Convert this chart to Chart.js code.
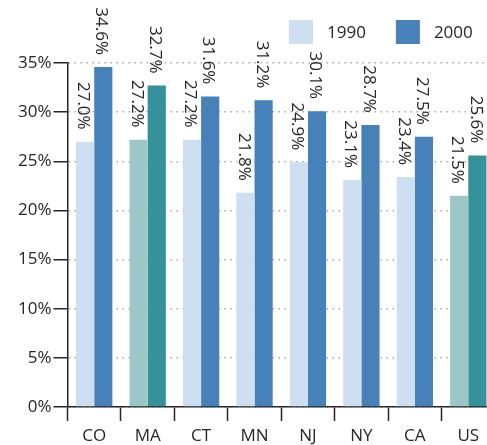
<!DOCTYPE html>
<html>
<head>
<meta charset="utf-8">
<script src="https://cdn.jsdelivr.net/npm/chart.js@4"></script>
<style>
  html, body { margin: 0; padding: 0; background: #fff; overflow: hidden; }
  #wrap { width: 500px; height: 445px; }
</style>
</head>
<body>
<div id="wrap"><canvas id="myChart"></canvas></div>
<script>
const estados = ['CO', 'MA', 'CT', 'MN', 'NJ', 'NY', 'CA', 'US'];
const valores1990 = [27.0, 27.2, 27.2, 21.8, 24.9, 23.1, 23.4, 21.5];
const valores2000 = [34.6, 32.7, 31.6, 31.2, 30.1, 28.7, 27.5, 25.6];
const destacados = ['MA', 'US'];
const ejeMax = 35;
const ejePaso = 5;

const FUENTE = '"Open Sans", "Noto Sans", sans-serif';
const TEXTO = '#262626';

// colores: normal / destacado
const colores = {
    '1990': { normal: '#cddff0', destacado: '#9dc6c8' },
    '2000': { normal: '#4682b9', destacado: '#35919a' },
};

const colorBarras = (anio) =>
    estados.map(e => destacados.includes(e) ? colores[anio].destacado : colores[anio].normal);

// valores rotados encima de cada barra
const etiquetasVerticales = {
    id: 'etiquetasVerticales',
    afterDatasetsDraw(chart) {
        const ctx = chart.ctx;
        ctx.save();
        ctx.font = '17px ' + FUENTE;
        ctx.fillStyle = TEXTO;
        ctx.textAlign = 'right';
        ctx.textBaseline = 'middle';
        chart.data.datasets.forEach((ds, i) => {
            chart.getDatasetMeta(i).data.forEach((bar, j) => {
                ctx.save();
                ctx.translate(bar.x - 2, bar.y - 12);
                ctx.rotate(Math.PI / 2);
                ctx.fillText(ds.data[j].toFixed(1) + '%', 0, 0);
                ctx.restore();
            });
        });
        ctx.restore();
    }
};

// leyenda arriba a la derecha
const leyenda = {
    id: 'leyenda',
    afterDraw(chart) {
        const ctx = chart.ctx;
        const caja = 24;
        let x = 289;
        const y = 20;
        ctx.save();
        ctx.font = '17px ' + FUENTE;
        ctx.textBaseline = 'middle';
        chart.data.datasets.forEach(ds => {
            ctx.fillStyle = colores[ds.label].normal;
            ctx.fillRect(x, y, caja, caja);
            ctx.fillStyle = TEXTO;
            ctx.fillText(ds.label, x + caja + 14, y + caja / 2 + 1);
            x += caja + 14 + ctx.measureText(ds.label).width + 30;
        });
        ctx.restore();
    }
};

new Chart(document.getElementById('myChart'), {
    type: 'bar',
    data: {
        labels: estados,
        datasets: [
            { label: '1990', data: valores1990, backgroundColor: colorBarras('1990') },
            { label: '2000', data: valores2000, backgroundColor: colorBarras('2000') },
        ],
    },
    options: {
        responsive: true,
        maintainAspectRatio: false,
        animation: false,
        categoryPercentage: 0.68,
        barPercentage: 1,
        layout: { padding: { top: 63, right: 5, left: 16, bottom: -7 } },
        plugins: {
            legend: { display: false },
            tooltip: { enabled: false },
        },
        scales: {
            x: {
                grid: {
                    offset: true,
                    drawOnChartArea: false,
                    tickLength: 14,
                    tickColor: TEXTO,
                    tickWidth: 1.5,
                },
                border: { color: TEXTO, width: 1.5 },
                ticks: {
                    color: TEXTO,
                    font: { family: FUENTE, size: 17, lineHeight: 1 },
                    padding: 7,
                },
            },
            y: {
                min: 0,
                max: ejeMax,
                grid: {
                    color: '#a8a8a8',
                    lineWidth: 1.5,
                    tickLength: 14,
                    tickColor: TEXTO,
                    tickWidth: 1.5,
                    tickBorderDash: [],
                },
                border: { color: TEXTO, width: 1.5, dash: [1.5, 4.5] },
                ticks: {
                    stepSize: ejePaso,
                    color: TEXTO,
                    padding: 2,
                    font: { family: FUENTE, size: 17 },
                    callback: v => v + '%',
                },
            },
        },
    },
    plugins: [etiquetasVerticales, leyenda],
});
</script>
</body>
</html>
